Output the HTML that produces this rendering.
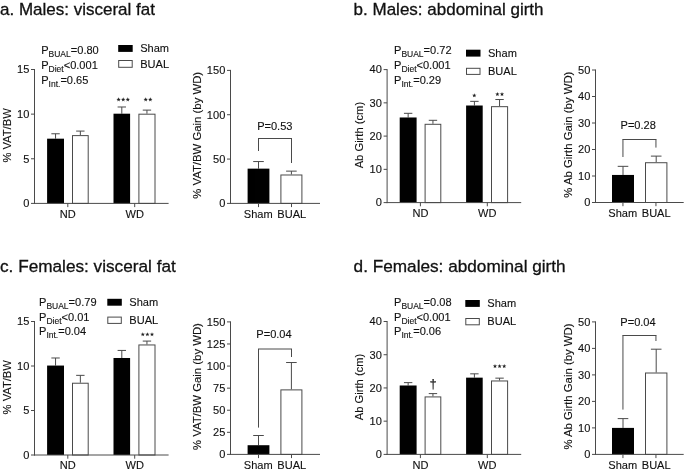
<!DOCTYPE html>
<html><head><meta charset="utf-8"><title>Figure</title>
<style>
html,body{margin:0;padding:0;background:#fff;}
body{width:685px;height:471px;overflow:hidden;font-family:"Liberation Sans",sans-serif;}
svg{display:block;opacity:0.999;will-change:transform;}
svg text{font-family:"Liberation Sans",sans-serif;fill:#111111;stroke:#111111;stroke-width:0.12px;}
</style></head><body>
<svg width="685" height="471" viewBox="0 0 685 471">
<rect x="0" y="0" width="685" height="471" fill="#ffffff"/>
<text x="0.00" y="14.60" font-size="17" text-anchor="start" style="stroke-width:0.3px">a. Males: visceral fat</text>
<text x="353.60" y="14.60" font-size="17" text-anchor="start" style="stroke-width:0.3px">b. Males: abdominal girth</text>
<text x="0.00" y="271.70" font-size="17.2" text-anchor="start" style="stroke-width:0.3px">c. Females: visceral fat</text>
<text x="353.60" y="271.70" font-size="17.2" text-anchor="start" style="stroke-width:0.3px">d. Females: abdominal girth</text>
<line x1="55.55" y1="133.77" x2="55.55" y2="138.68" stroke="#4a4a4a" stroke-width="1.0"/>
<line x1="51.35" y1="133.77" x2="59.75" y2="133.77" stroke="#4a4a4a" stroke-width="1.0"/>
<rect x="47.10" y="138.68" width="16.90" height="64.72" fill="#000"/>
<line x1="80.35" y1="131.09" x2="80.35" y2="135.11" stroke="#4a4a4a" stroke-width="1.0"/>
<line x1="76.15" y1="131.09" x2="84.55" y2="131.09" stroke="#4a4a4a" stroke-width="1.0"/>
<rect x="72.50" y="135.61" width="15.70" height="67.79" fill="#fff" stroke="#4a4a4a" stroke-width="1.0"/>
<line x1="121.80" y1="106.99" x2="121.80" y2="113.69" stroke="#4a4a4a" stroke-width="1.0"/>
<line x1="117.60" y1="106.99" x2="126.00" y2="106.99" stroke="#4a4a4a" stroke-width="1.0"/>
<rect x="113.50" y="113.69" width="16.60" height="89.71" fill="#000"/>
<line x1="146.95" y1="110.12" x2="146.95" y2="113.69" stroke="#4a4a4a" stroke-width="1.0"/>
<line x1="142.75" y1="110.12" x2="151.15" y2="110.12" stroke="#4a4a4a" stroke-width="1.0"/>
<rect x="138.90" y="114.19" width="16.10" height="89.21" fill="#fff" stroke="#4a4a4a" stroke-width="1.0"/>
<line x1="34.50" y1="69.00" x2="34.50" y2="203.90" stroke="#4a4a4a" stroke-width="1.0"/>
<line x1="31.00" y1="203.40" x2="34.50" y2="203.40" stroke="#4a4a4a" stroke-width="1.0"/>
<text x="29.30" y="207.20" font-size="11.05" text-anchor="end">0</text>
<line x1="31.00" y1="158.77" x2="34.50" y2="158.77" stroke="#4a4a4a" stroke-width="1.0"/>
<text x="29.30" y="162.57" font-size="11.05" text-anchor="end">5</text>
<line x1="31.00" y1="114.13" x2="34.50" y2="114.13" stroke="#4a4a4a" stroke-width="1.0"/>
<text x="29.30" y="117.93" font-size="11.05" text-anchor="end">10</text>
<line x1="31.00" y1="69.50" x2="34.50" y2="69.50" stroke="#4a4a4a" stroke-width="1.0"/>
<text x="29.30" y="73.30" font-size="11.05" text-anchor="end">15</text>
<line x1="34.00" y1="203.40" x2="168.60" y2="203.40" stroke="#4a4a4a" stroke-width="1.0"/>
<line x1="67.80" y1="203.40" x2="67.80" y2="207.10" stroke="#4a4a4a" stroke-width="1.0"/>
<text x="67.80" y="217.80" font-size="11.05" text-anchor="middle">ND</text>
<line x1="134.70" y1="203.40" x2="134.70" y2="207.10" stroke="#4a4a4a" stroke-width="1.0"/>
<text x="134.70" y="217.80" font-size="11.05" text-anchor="middle">WD</text>
<text x="11.20" y="135.45" font-size="11.2" text-anchor="middle" transform="rotate(-90 11.20 135.45)">% VAT/BW</text>
<text x="41.20" y="54.40" font-size="11.05">P<tspan font-size="8.5" dy="3.0">BUAL</tspan><tspan dy="-3.0">=0.80</tspan></text>
<text x="41.20" y="69.00" font-size="11.05">P<tspan font-size="8.5" dy="3.0">Diet</tspan><tspan dy="-3.0">&lt;0.001</tspan></text>
<text x="41.20" y="83.60" font-size="11.05">P<tspan font-size="8.5" dy="3.0">Int.</tspan><tspan dy="-3.0">=0.65</tspan></text>
<rect x="118.20" y="45.00" width="14.50" height="6.90" fill="#000"/>
<rect x="118.70" y="60.50" width="13.50" height="6.80" fill="#fff" stroke="#4a4a4a" stroke-width="1.0"/>
<text x="140.20" y="52.00" font-size="11.05" text-anchor="start">Sham</text>
<text x="140.20" y="67.60" font-size="11.05" text-anchor="start">BUAL</text>
<polygon points="118.60,97.35 119.16,98.83 120.74,98.90 119.50,99.89 119.92,101.42 118.60,100.55 117.28,101.42 117.70,99.89 116.46,98.90 118.04,98.83" fill="#222"/>
<polygon points="123.20,97.35 123.76,98.83 125.34,98.90 124.10,99.89 124.52,101.42 123.20,100.55 121.88,101.42 122.30,99.89 121.06,98.90 122.64,98.83" fill="#222"/>
<polygon points="127.80,97.35 128.36,98.83 129.94,98.90 128.70,99.89 129.12,101.42 127.80,100.55 126.48,101.42 126.90,99.89 125.66,98.90 127.24,98.83" fill="#222"/>
<polygon points="145.70,97.35 146.26,98.83 147.84,98.90 146.60,99.89 147.02,101.42 145.70,100.55 144.38,101.42 144.80,99.89 143.56,98.90 145.14,98.83" fill="#222"/>
<polygon points="150.30,97.35 150.86,98.83 152.44,98.90 151.20,99.89 151.62,101.42 150.30,100.55 148.98,101.42 149.40,99.89 148.16,98.90 149.74,98.83" fill="#222"/>
<line x1="258.50" y1="161.55" x2="258.50" y2="168.64" stroke="#4a4a4a" stroke-width="1.0"/>
<line x1="253.20" y1="161.55" x2="263.80" y2="161.55" stroke="#4a4a4a" stroke-width="1.0"/>
<rect x="247.60" y="168.64" width="21.80" height="34.76" fill="#000"/>
<line x1="291.40" y1="171.13" x2="291.40" y2="174.49" stroke="#4a4a4a" stroke-width="1.0"/>
<line x1="286.10" y1="171.13" x2="296.70" y2="171.13" stroke="#4a4a4a" stroke-width="1.0"/>
<rect x="280.90" y="174.99" width="21.00" height="28.41" fill="#fff" stroke="#4a4a4a" stroke-width="1.0"/>
<line x1="230.50" y1="69.90" x2="230.50" y2="203.90" stroke="#4a4a4a" stroke-width="1.0"/>
<line x1="227.00" y1="203.40" x2="230.50" y2="203.40" stroke="#4a4a4a" stroke-width="1.0"/>
<text x="225.30" y="207.20" font-size="11.05" text-anchor="end">0</text>
<line x1="227.00" y1="159.07" x2="230.50" y2="159.07" stroke="#4a4a4a" stroke-width="1.0"/>
<text x="225.30" y="162.87" font-size="11.05" text-anchor="end">50</text>
<line x1="227.00" y1="114.73" x2="230.50" y2="114.73" stroke="#4a4a4a" stroke-width="1.0"/>
<text x="225.30" y="118.53" font-size="11.05" text-anchor="end">100</text>
<line x1="227.00" y1="70.40" x2="230.50" y2="70.40" stroke="#4a4a4a" stroke-width="1.0"/>
<text x="225.30" y="74.20" font-size="11.05" text-anchor="end">150</text>
<line x1="230.00" y1="203.40" x2="320.00" y2="203.40" stroke="#4a4a4a" stroke-width="1.0"/>
<line x1="258.50" y1="203.40" x2="258.50" y2="207.10" stroke="#4a4a4a" stroke-width="1.0"/>
<line x1="291.50" y1="203.40" x2="291.50" y2="207.10" stroke="#4a4a4a" stroke-width="1.0"/>
<text x="258.30" y="218.20" font-size="11.05" text-anchor="middle">Sham</text>
<text x="291.80" y="218.20" font-size="11.05" text-anchor="middle">BUAL</text>
<text x="201.00" y="135.30" font-size="11.35" text-anchor="middle" transform="rotate(-90 201.00 135.30)">% VAT/BW Gain (by WD)</text>
<text x="274.80" y="129.60" font-size="11.05" text-anchor="middle">P=0.53</text>
<line x1="258.50" y1="138.50" x2="258.50" y2="151.00" stroke="#4a4a4a" stroke-width="1.0"/>
<line x1="258.00" y1="138.50" x2="292.00" y2="138.50" stroke="#4a4a4a" stroke-width="1.0"/>
<line x1="291.50" y1="138.50" x2="291.50" y2="163.00" stroke="#4a4a4a" stroke-width="1.0"/>
<line x1="408.15" y1="113.32" x2="408.15" y2="117.48" stroke="#4a4a4a" stroke-width="1.0"/>
<line x1="403.95" y1="113.32" x2="412.35" y2="113.32" stroke="#4a4a4a" stroke-width="1.0"/>
<rect x="399.70" y="117.48" width="16.90" height="85.12" fill="#000"/>
<line x1="432.95" y1="120.31" x2="432.95" y2="123.80" stroke="#4a4a4a" stroke-width="1.0"/>
<line x1="428.75" y1="120.31" x2="437.15" y2="120.31" stroke="#4a4a4a" stroke-width="1.0"/>
<rect x="425.10" y="124.30" width="15.70" height="78.30" fill="#fff" stroke="#4a4a4a" stroke-width="1.0"/>
<line x1="474.40" y1="101.35" x2="474.40" y2="105.51" stroke="#4a4a4a" stroke-width="1.0"/>
<line x1="470.20" y1="101.35" x2="478.60" y2="101.35" stroke="#4a4a4a" stroke-width="1.0"/>
<rect x="466.10" y="105.51" width="16.60" height="97.09" fill="#000"/>
<line x1="499.55" y1="99.52" x2="499.55" y2="106.17" stroke="#4a4a4a" stroke-width="1.0"/>
<line x1="495.35" y1="99.52" x2="503.75" y2="99.52" stroke="#4a4a4a" stroke-width="1.0"/>
<rect x="491.50" y="106.67" width="16.10" height="95.93" fill="#fff" stroke="#4a4a4a" stroke-width="1.0"/>
<line x1="387.10" y1="69.10" x2="387.10" y2="203.10" stroke="#4a4a4a" stroke-width="1.0"/>
<line x1="383.60" y1="202.60" x2="387.10" y2="202.60" stroke="#4a4a4a" stroke-width="1.0"/>
<text x="381.90" y="206.40" font-size="11.05" text-anchor="end">0</text>
<line x1="383.60" y1="169.35" x2="387.10" y2="169.35" stroke="#4a4a4a" stroke-width="1.0"/>
<text x="381.90" y="173.15" font-size="11.05" text-anchor="end">10</text>
<line x1="383.60" y1="136.10" x2="387.10" y2="136.10" stroke="#4a4a4a" stroke-width="1.0"/>
<text x="381.90" y="139.90" font-size="11.05" text-anchor="end">20</text>
<line x1="383.60" y1="102.85" x2="387.10" y2="102.85" stroke="#4a4a4a" stroke-width="1.0"/>
<text x="381.90" y="106.65" font-size="11.05" text-anchor="end">30</text>
<line x1="383.60" y1="69.60" x2="387.10" y2="69.60" stroke="#4a4a4a" stroke-width="1.0"/>
<text x="381.90" y="73.40" font-size="11.05" text-anchor="end">40</text>
<line x1="386.60" y1="202.60" x2="521.20" y2="202.60" stroke="#4a4a4a" stroke-width="1.0"/>
<line x1="420.40" y1="202.60" x2="420.40" y2="206.30" stroke="#4a4a4a" stroke-width="1.0"/>
<text x="420.40" y="217.00" font-size="11.05" text-anchor="middle">ND</text>
<line x1="487.30" y1="202.60" x2="487.30" y2="206.30" stroke="#4a4a4a" stroke-width="1.0"/>
<text x="487.30" y="217.00" font-size="11.05" text-anchor="middle">WD</text>
<text x="363.20" y="135.10" font-size="11.2" text-anchor="middle" transform="rotate(-90 363.20 135.10)">Ab Girth (cm)</text>
<text x="394.00" y="54.40" font-size="11.05">P<tspan font-size="8.5" dy="3.0">BUAL</tspan><tspan dy="-3.0">=0.72</tspan></text>
<text x="394.00" y="69.00" font-size="11.05">P<tspan font-size="8.5" dy="3.0">Diet</tspan><tspan dy="-3.0">&lt;0.001</tspan></text>
<text x="394.00" y="83.60" font-size="11.05">P<tspan font-size="8.5" dy="3.0">Int.</tspan><tspan dy="-3.0">=0.29</tspan></text>
<rect x="466.00" y="49.70" width="14.50" height="6.90" fill="#000"/>
<rect x="466.50" y="68.30" width="13.50" height="6.10" fill="#fff" stroke="#4a4a4a" stroke-width="1.0"/>
<text x="488.00" y="56.70" font-size="11.05" text-anchor="start">Sham</text>
<text x="488.00" y="74.70" font-size="11.05" text-anchor="start">BUAL</text>
<polygon points="474.30,93.25 474.86,94.73 476.44,94.80 475.20,95.79 475.62,97.32 474.30,96.45 472.98,97.32 473.40,95.79 472.16,94.80 473.74,94.73" fill="#222"/>
<polygon points="497.40,91.95 497.96,93.43 499.54,93.50 498.30,94.49 498.72,96.02 497.40,95.15 496.08,96.02 496.50,94.49 495.26,93.50 496.84,93.43" fill="#222"/>
<polygon points="502.00,91.95 502.56,93.43 504.14,93.50 502.90,94.49 503.32,96.02 502.00,95.15 500.68,96.02 501.10,94.49 499.86,93.50 501.44,93.43" fill="#222"/>
<line x1="623.00" y1="166.33" x2="623.00" y2="174.94" stroke="#4a4a4a" stroke-width="1.0"/>
<line x1="617.70" y1="166.33" x2="628.30" y2="166.33" stroke="#4a4a4a" stroke-width="1.0"/>
<rect x="612.00" y="174.94" width="22.00" height="27.56" fill="#000"/>
<line x1="656.20" y1="156.12" x2="656.20" y2="162.22" stroke="#4a4a4a" stroke-width="1.0"/>
<line x1="650.90" y1="156.12" x2="661.50" y2="156.12" stroke="#4a4a4a" stroke-width="1.0"/>
<rect x="645.50" y="162.72" width="21.40" height="39.78" fill="#fff" stroke="#4a4a4a" stroke-width="1.0"/>
<line x1="595.50" y1="69.50" x2="595.50" y2="203.00" stroke="#4a4a4a" stroke-width="1.0"/>
<line x1="592.00" y1="202.50" x2="595.50" y2="202.50" stroke="#4a4a4a" stroke-width="1.0"/>
<text x="590.30" y="206.30" font-size="11.05" text-anchor="end">0</text>
<line x1="592.00" y1="176.00" x2="595.50" y2="176.00" stroke="#4a4a4a" stroke-width="1.0"/>
<text x="590.30" y="179.80" font-size="11.05" text-anchor="end">10</text>
<line x1="592.00" y1="149.50" x2="595.50" y2="149.50" stroke="#4a4a4a" stroke-width="1.0"/>
<text x="590.30" y="153.30" font-size="11.05" text-anchor="end">20</text>
<line x1="592.00" y1="123.00" x2="595.50" y2="123.00" stroke="#4a4a4a" stroke-width="1.0"/>
<text x="590.30" y="126.80" font-size="11.05" text-anchor="end">30</text>
<line x1="592.00" y1="96.50" x2="595.50" y2="96.50" stroke="#4a4a4a" stroke-width="1.0"/>
<text x="590.30" y="100.30" font-size="11.05" text-anchor="end">40</text>
<line x1="592.00" y1="70.00" x2="595.50" y2="70.00" stroke="#4a4a4a" stroke-width="1.0"/>
<text x="590.30" y="73.80" font-size="11.05" text-anchor="end">50</text>
<line x1="595.00" y1="202.50" x2="683.70" y2="202.50" stroke="#4a4a4a" stroke-width="1.0"/>
<line x1="622.95" y1="202.50" x2="622.95" y2="206.20" stroke="#4a4a4a" stroke-width="1.0"/>
<line x1="655.95" y1="202.50" x2="655.95" y2="206.20" stroke="#4a4a4a" stroke-width="1.0"/>
<text x="622.80" y="217.30" font-size="11.05" text-anchor="middle">Sham</text>
<text x="656.20" y="217.30" font-size="11.05" text-anchor="middle">BUAL</text>
<text x="572.20" y="134.65" font-size="11.35" text-anchor="middle" transform="rotate(-90 572.20 134.65)">% Ab Girth Gain (by WD)</text>
<text x="638.20" y="129.00" font-size="11.05" text-anchor="middle">P=0.28</text>
<line x1="622.95" y1="139.50" x2="622.95" y2="157.00" stroke="#4a4a4a" stroke-width="1.0"/>
<line x1="622.45" y1="139.50" x2="656.45" y2="139.50" stroke="#4a4a4a" stroke-width="1.0"/>
<line x1="655.95" y1="139.50" x2="655.95" y2="147.60" stroke="#4a4a4a" stroke-width="1.0"/>
<line x1="55.55" y1="357.99" x2="55.55" y2="365.56" stroke="#4a4a4a" stroke-width="1.0"/>
<line x1="51.35" y1="357.99" x2="59.75" y2="357.99" stroke="#4a4a4a" stroke-width="1.0"/>
<rect x="47.10" y="365.56" width="16.90" height="89.44" fill="#000"/>
<line x1="80.35" y1="375.35" x2="80.35" y2="382.73" stroke="#4a4a4a" stroke-width="1.0"/>
<line x1="76.15" y1="375.35" x2="84.55" y2="375.35" stroke="#4a4a4a" stroke-width="1.0"/>
<rect x="72.50" y="383.23" width="15.70" height="71.77" fill="#fff" stroke="#4a4a4a" stroke-width="1.0"/>
<line x1="121.80" y1="350.43" x2="121.80" y2="357.99" stroke="#4a4a4a" stroke-width="1.0"/>
<line x1="117.60" y1="350.43" x2="126.00" y2="350.43" stroke="#4a4a4a" stroke-width="1.0"/>
<rect x="113.50" y="357.99" width="16.60" height="97.01" fill="#000"/>
<line x1="146.95" y1="341.08" x2="146.95" y2="344.46" stroke="#4a4a4a" stroke-width="1.0"/>
<line x1="142.75" y1="341.08" x2="151.15" y2="341.08" stroke="#4a4a4a" stroke-width="1.0"/>
<rect x="138.90" y="344.96" width="16.10" height="110.04" fill="#fff" stroke="#4a4a4a" stroke-width="1.0"/>
<line x1="34.50" y1="321.00" x2="34.50" y2="455.50" stroke="#4a4a4a" stroke-width="1.0"/>
<line x1="31.00" y1="455.00" x2="34.50" y2="455.00" stroke="#4a4a4a" stroke-width="1.0"/>
<text x="29.30" y="458.80" font-size="11.05" text-anchor="end">0</text>
<line x1="31.00" y1="410.50" x2="34.50" y2="410.50" stroke="#4a4a4a" stroke-width="1.0"/>
<text x="29.30" y="414.30" font-size="11.05" text-anchor="end">5</text>
<line x1="31.00" y1="366.00" x2="34.50" y2="366.00" stroke="#4a4a4a" stroke-width="1.0"/>
<text x="29.30" y="369.80" font-size="11.05" text-anchor="end">10</text>
<line x1="31.00" y1="321.50" x2="34.50" y2="321.50" stroke="#4a4a4a" stroke-width="1.0"/>
<text x="29.30" y="325.30" font-size="11.05" text-anchor="end">15</text>
<line x1="34.00" y1="455.00" x2="168.60" y2="455.00" stroke="#4a4a4a" stroke-width="1.0"/>
<line x1="67.80" y1="455.00" x2="67.80" y2="458.70" stroke="#4a4a4a" stroke-width="1.0"/>
<text x="67.80" y="469.40" font-size="11.05" text-anchor="middle">ND</text>
<line x1="134.70" y1="455.00" x2="134.70" y2="458.70" stroke="#4a4a4a" stroke-width="1.0"/>
<text x="134.70" y="469.40" font-size="11.05" text-anchor="middle">WD</text>
<text x="11.20" y="387.25" font-size="11.2" text-anchor="middle" transform="rotate(-90 11.20 387.25)">% VAT/BW</text>
<text x="39.00" y="306.00" font-size="11.05">P<tspan font-size="8.5" dy="3.0">BUAL</tspan><tspan dy="-3.0">=0.79</tspan></text>
<text x="39.00" y="320.60" font-size="11.05">P<tspan font-size="8.5" dy="3.0">Diet</tspan><tspan dy="-3.0">&lt;0.01</tspan></text>
<text x="39.00" y="335.20" font-size="11.05">P<tspan font-size="8.5" dy="3.0">Int.</tspan><tspan dy="-3.0">=0.04</tspan></text>
<rect x="107.30" y="298.80" width="14.50" height="6.90" fill="#000"/>
<rect x="107.80" y="317.10" width="13.50" height="6.30" fill="#fff" stroke="#4a4a4a" stroke-width="1.0"/>
<text x="129.30" y="305.80" font-size="11.05" text-anchor="start">Sham</text>
<text x="129.30" y="323.70" font-size="11.05" text-anchor="start">BUAL</text>
<polygon points="142.80,332.15 143.36,333.63 144.94,333.70 143.70,334.69 144.12,336.22 142.80,335.35 141.48,336.22 141.90,334.69 140.66,333.70 142.24,333.63" fill="#222"/>
<polygon points="147.40,332.15 147.96,333.63 149.54,333.70 148.30,334.69 148.72,336.22 147.40,335.35 146.08,336.22 146.50,334.69 145.26,333.70 146.84,333.63" fill="#222"/>
<polygon points="152.00,332.15 152.56,333.63 154.14,333.70 152.90,334.69 153.32,336.22 152.00,335.35 150.68,336.22 151.10,334.69 149.86,333.70 151.44,333.63" fill="#222"/>
<line x1="258.50" y1="435.50" x2="258.50" y2="445.21" stroke="#4a4a4a" stroke-width="1.0"/>
<line x1="253.20" y1="435.50" x2="263.80" y2="435.50" stroke="#4a4a4a" stroke-width="1.0"/>
<rect x="247.60" y="445.21" width="21.80" height="9.19" fill="#000"/>
<line x1="291.40" y1="362.53" x2="291.40" y2="389.39" stroke="#4a4a4a" stroke-width="1.0"/>
<line x1="286.10" y1="362.53" x2="296.70" y2="362.53" stroke="#4a4a4a" stroke-width="1.0"/>
<rect x="280.90" y="389.89" width="21.00" height="64.51" fill="#fff" stroke="#4a4a4a" stroke-width="1.0"/>
<line x1="230.50" y1="321.40" x2="230.50" y2="454.90" stroke="#4a4a4a" stroke-width="1.0"/>
<line x1="227.00" y1="454.40" x2="230.50" y2="454.40" stroke="#4a4a4a" stroke-width="1.0"/>
<text x="225.30" y="458.20" font-size="11.05" text-anchor="end">0</text>
<line x1="227.00" y1="432.32" x2="230.50" y2="432.32" stroke="#4a4a4a" stroke-width="1.0"/>
<text x="225.30" y="436.12" font-size="11.05" text-anchor="end">25</text>
<line x1="227.00" y1="410.23" x2="230.50" y2="410.23" stroke="#4a4a4a" stroke-width="1.0"/>
<text x="225.30" y="414.03" font-size="11.05" text-anchor="end">50</text>
<line x1="227.00" y1="388.15" x2="230.50" y2="388.15" stroke="#4a4a4a" stroke-width="1.0"/>
<text x="225.30" y="391.95" font-size="11.05" text-anchor="end">75</text>
<line x1="227.00" y1="366.07" x2="230.50" y2="366.07" stroke="#4a4a4a" stroke-width="1.0"/>
<text x="225.30" y="369.87" font-size="11.05" text-anchor="end">100</text>
<line x1="227.00" y1="343.98" x2="230.50" y2="343.98" stroke="#4a4a4a" stroke-width="1.0"/>
<text x="225.30" y="347.78" font-size="11.05" text-anchor="end">125</text>
<line x1="227.00" y1="321.90" x2="230.50" y2="321.90" stroke="#4a4a4a" stroke-width="1.0"/>
<text x="225.30" y="325.70" font-size="11.05" text-anchor="end">150</text>
<line x1="230.00" y1="454.40" x2="320.00" y2="454.40" stroke="#4a4a4a" stroke-width="1.0"/>
<line x1="258.50" y1="454.40" x2="258.50" y2="458.10" stroke="#4a4a4a" stroke-width="1.0"/>
<line x1="291.50" y1="454.40" x2="291.50" y2="458.10" stroke="#4a4a4a" stroke-width="1.0"/>
<text x="258.30" y="469.20" font-size="11.05" text-anchor="middle">Sham</text>
<text x="291.80" y="469.20" font-size="11.05" text-anchor="middle">BUAL</text>
<text x="201.00" y="386.55" font-size="11.35" text-anchor="middle" transform="rotate(-90 201.00 386.55)">% VAT/BW Gain (by WD)</text>
<text x="274.00" y="338.40" font-size="11.05" text-anchor="middle">P=0.04</text>
<line x1="258.50" y1="349.00" x2="258.50" y2="427.60" stroke="#4a4a4a" stroke-width="1.0"/>
<line x1="258.00" y1="349.00" x2="292.00" y2="349.00" stroke="#4a4a4a" stroke-width="1.0"/>
<line x1="291.50" y1="349.00" x2="291.50" y2="357.00" stroke="#4a4a4a" stroke-width="1.0"/>
<line x1="408.15" y1="382.63" x2="408.15" y2="385.49" stroke="#4a4a4a" stroke-width="1.0"/>
<line x1="403.95" y1="382.63" x2="412.35" y2="382.63" stroke="#4a4a4a" stroke-width="1.0"/>
<rect x="399.70" y="385.49" width="16.90" height="68.91" fill="#000"/>
<line x1="432.95" y1="393.60" x2="432.95" y2="396.42" stroke="#4a4a4a" stroke-width="1.0"/>
<line x1="428.75" y1="393.60" x2="437.15" y2="393.60" stroke="#4a4a4a" stroke-width="1.0"/>
<rect x="425.10" y="396.92" width="15.70" height="57.48" fill="#fff" stroke="#4a4a4a" stroke-width="1.0"/>
<line x1="474.40" y1="373.83" x2="474.40" y2="377.65" stroke="#4a4a4a" stroke-width="1.0"/>
<line x1="470.20" y1="373.83" x2="478.60" y2="373.83" stroke="#4a4a4a" stroke-width="1.0"/>
<rect x="466.10" y="377.65" width="16.60" height="76.75" fill="#000"/>
<line x1="499.55" y1="378.15" x2="499.55" y2="380.47" stroke="#4a4a4a" stroke-width="1.0"/>
<line x1="495.35" y1="378.15" x2="503.75" y2="378.15" stroke="#4a4a4a" stroke-width="1.0"/>
<rect x="491.50" y="380.97" width="16.10" height="73.43" fill="#fff" stroke="#4a4a4a" stroke-width="1.0"/>
<line x1="387.10" y1="321.00" x2="387.10" y2="454.90" stroke="#4a4a4a" stroke-width="1.0"/>
<line x1="383.60" y1="454.40" x2="387.10" y2="454.40" stroke="#4a4a4a" stroke-width="1.0"/>
<text x="381.90" y="458.20" font-size="11.05" text-anchor="end">0</text>
<line x1="383.60" y1="421.17" x2="387.10" y2="421.17" stroke="#4a4a4a" stroke-width="1.0"/>
<text x="381.90" y="424.97" font-size="11.05" text-anchor="end">10</text>
<line x1="383.60" y1="387.95" x2="387.10" y2="387.95" stroke="#4a4a4a" stroke-width="1.0"/>
<text x="381.90" y="391.75" font-size="11.05" text-anchor="end">20</text>
<line x1="383.60" y1="354.73" x2="387.10" y2="354.73" stroke="#4a4a4a" stroke-width="1.0"/>
<text x="381.90" y="358.53" font-size="11.05" text-anchor="end">30</text>
<line x1="383.60" y1="321.50" x2="387.10" y2="321.50" stroke="#4a4a4a" stroke-width="1.0"/>
<text x="381.90" y="325.30" font-size="11.05" text-anchor="end">40</text>
<line x1="386.60" y1="454.40" x2="521.20" y2="454.40" stroke="#4a4a4a" stroke-width="1.0"/>
<line x1="420.40" y1="454.40" x2="420.40" y2="458.10" stroke="#4a4a4a" stroke-width="1.0"/>
<text x="420.40" y="468.80" font-size="11.05" text-anchor="middle">ND</text>
<line x1="487.30" y1="454.40" x2="487.30" y2="458.10" stroke="#4a4a4a" stroke-width="1.0"/>
<text x="487.30" y="468.80" font-size="11.05" text-anchor="middle">WD</text>
<text x="363.20" y="386.95" font-size="11.2" text-anchor="middle" transform="rotate(-90 363.20 386.95)">Ab Girth (cm)</text>
<text x="394.00" y="306.00" font-size="11.05">P<tspan font-size="8.5" dy="3.0">BUAL</tspan><tspan dy="-3.0">=0.08</tspan></text>
<text x="394.00" y="320.60" font-size="11.05">P<tspan font-size="8.5" dy="3.0">Diet</tspan><tspan dy="-3.0">&lt;0.001</tspan></text>
<text x="394.00" y="335.20" font-size="11.05">P<tspan font-size="8.5" dy="3.0">Int.</tspan><tspan dy="-3.0">=0.06</tspan></text>
<rect x="465.30" y="300.00" width="14.50" height="6.90" fill="#000"/>
<rect x="465.80" y="318.50" width="13.50" height="6.30" fill="#fff" stroke="#4a4a4a" stroke-width="1.0"/>
<text x="487.30" y="307.00" font-size="11.05" text-anchor="start">Sham</text>
<text x="487.30" y="325.10" font-size="11.05" text-anchor="start">BUAL</text>
<polygon points="495.00,363.95 495.56,365.43 497.14,365.50 495.90,366.49 496.32,368.02 495.00,367.15 493.68,368.02 494.10,366.49 492.86,365.50 494.44,365.43" fill="#222"/>
<polygon points="499.60,363.95 500.16,365.43 501.74,365.50 500.50,366.49 500.92,368.02 499.60,367.15 498.28,368.02 498.70,366.49 497.46,365.50 499.04,365.43" fill="#222"/>
<polygon points="504.20,363.95 504.76,365.43 506.34,365.50 505.10,366.49 505.52,368.02 504.20,367.15 502.88,368.02 503.30,366.49 502.06,365.50 503.64,365.43" fill="#222"/>
<text x="433.20" y="388.10" font-size="13" text-anchor="middle">†</text>
<line x1="623.00" y1="418.62" x2="623.00" y2="427.90" stroke="#4a4a4a" stroke-width="1.0"/>
<line x1="617.70" y1="418.62" x2="628.30" y2="418.62" stroke="#4a4a4a" stroke-width="1.0"/>
<rect x="612.00" y="427.90" width="22.00" height="26.50" fill="#000"/>
<line x1="656.20" y1="349.19" x2="656.20" y2="372.51" stroke="#4a4a4a" stroke-width="1.0"/>
<line x1="650.90" y1="349.19" x2="661.50" y2="349.19" stroke="#4a4a4a" stroke-width="1.0"/>
<rect x="645.50" y="373.01" width="21.40" height="81.38" fill="#fff" stroke="#4a4a4a" stroke-width="1.0"/>
<line x1="595.50" y1="321.40" x2="595.50" y2="454.90" stroke="#4a4a4a" stroke-width="1.0"/>
<line x1="592.00" y1="454.40" x2="595.50" y2="454.40" stroke="#4a4a4a" stroke-width="1.0"/>
<text x="590.30" y="458.20" font-size="11.05" text-anchor="end">0</text>
<line x1="592.00" y1="427.90" x2="595.50" y2="427.90" stroke="#4a4a4a" stroke-width="1.0"/>
<text x="590.30" y="431.70" font-size="11.05" text-anchor="end">10</text>
<line x1="592.00" y1="401.40" x2="595.50" y2="401.40" stroke="#4a4a4a" stroke-width="1.0"/>
<text x="590.30" y="405.20" font-size="11.05" text-anchor="end">20</text>
<line x1="592.00" y1="374.90" x2="595.50" y2="374.90" stroke="#4a4a4a" stroke-width="1.0"/>
<text x="590.30" y="378.70" font-size="11.05" text-anchor="end">30</text>
<line x1="592.00" y1="348.40" x2="595.50" y2="348.40" stroke="#4a4a4a" stroke-width="1.0"/>
<text x="590.30" y="352.20" font-size="11.05" text-anchor="end">40</text>
<line x1="592.00" y1="321.90" x2="595.50" y2="321.90" stroke="#4a4a4a" stroke-width="1.0"/>
<text x="590.30" y="325.70" font-size="11.05" text-anchor="end">50</text>
<line x1="595.00" y1="454.40" x2="683.70" y2="454.40" stroke="#4a4a4a" stroke-width="1.0"/>
<line x1="622.95" y1="454.40" x2="622.95" y2="458.10" stroke="#4a4a4a" stroke-width="1.0"/>
<line x1="655.95" y1="454.40" x2="655.95" y2="458.10" stroke="#4a4a4a" stroke-width="1.0"/>
<text x="622.80" y="469.20" font-size="11.05" text-anchor="middle">Sham</text>
<text x="656.20" y="469.20" font-size="11.05" text-anchor="middle">BUAL</text>
<text x="572.20" y="386.55" font-size="11.35" text-anchor="middle" transform="rotate(-90 572.20 386.55)">% Ab Girth Gain (by WD)</text>
<text x="638.00" y="326.40" font-size="11.05" text-anchor="middle">P=0.04</text>
<line x1="622.95" y1="335.50" x2="622.95" y2="409.60" stroke="#4a4a4a" stroke-width="1.0"/>
<line x1="622.45" y1="335.50" x2="656.45" y2="335.50" stroke="#4a4a4a" stroke-width="1.0"/>
<line x1="655.95" y1="335.50" x2="655.95" y2="341.00" stroke="#4a4a4a" stroke-width="1.0"/>
</svg>
</body></html>
